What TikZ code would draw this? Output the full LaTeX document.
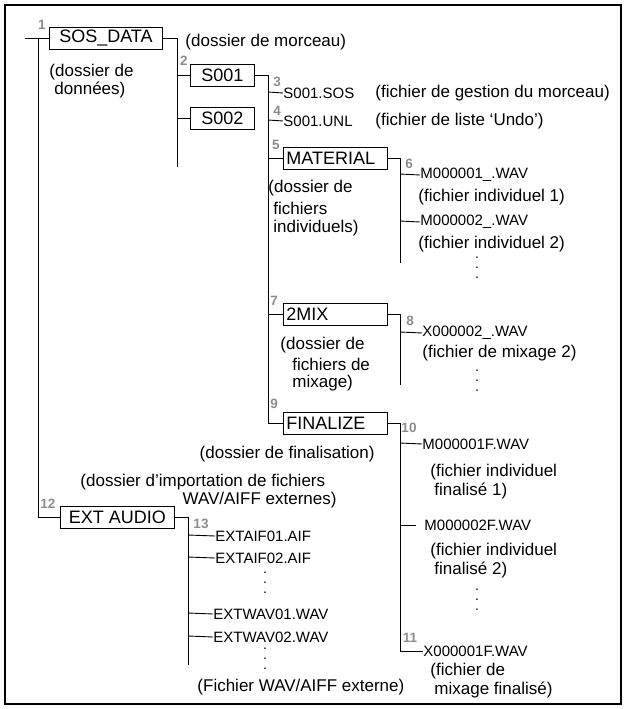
\documentclass[tikz,border=0pt]{standalone}
\usepackage{fontspec}
\setmainfont{Liberation Sans}
\begin{document}
\begin{tikzpicture}[x=1pt,y=-1pt,line width=0.9pt,
  box/.style={draw,line width=0.9pt,inner xsep=3pt,inner ysep=0pt,minimum height=22pt,font=\fontsize{18}{18}\selectfont,anchor=west},
  fname/.style={inner sep=0pt,anchor=west,font=\fontsize{15}{15}\selectfont},
  desc/.style={inner sep=0pt,anchor=west,font=\fontsize{17}{17}\selectfont},
  num/.style={inner sep=0pt,text=black!45,font=\bfseries\fontsize{13.5}{13.5}\selectfont},
  dots/.style={inner sep=0pt,font=\fontsize{14}{10}\selectfont,align=center}]
\useasboundingbox (0,0) rectangle (626,709);
\draw[line width=1.8pt] (5,5) rectangle (621,704);
% boxes
\node[box,minimum width=113pt] (sos) at (49,38) {SOS\_DATA};
\node[box,minimum width=64pt] (s1) at (190,75) {S001};
\node[box,minimum width=64pt] (s2) at (190,118) {S002};
\node[box,minimum width=104pt,text width=98pt] (mat) at (283,158) {MATERIAL};
\node[box,minimum width=104pt,text width=98pt] (mix) at (283,314) {2MIX};
\node[box,minimum width=104pt,text width=98pt] (fin) at (283,423) {FINALIZE};
\node[box,minimum width=114pt] (ext) at (60,517) {EXT AUDIO};
% numbers
\node[num] (n1) at (42,25) {1};
\node[num] (n2) at (184,61) {2};
\node[num] (n3) at (277,82) {3};
\node[num] (n4) at (277,111) {4};
\node[num] (n5) at (276,145) {5};
\node[num] (n6) at (409,164) {6};
\node[num] (n7) at (274,301) {7};
\node[num] (n8) at (410,321) {8};
\node[num] (n9) at (274,404) {9};
\node[num] (n10) at (409,428) {10};
\node[num] (n11) at (410,638) {11};
\node[num] (n12) at (48,504) {12};
\node[num] (n13) at (201,524) {13};
% files
\node[fname] (f3) at (283,93) {S001.SOS};
\node[fname] (f4) at (283,121) {S001.UNL};
\node[fname] (m1) at (420,175) {M000001\_.WAV};
\node[fname] (m2) at (420,222) {M000002\_.WAV};
\node[fname] (x2) at (422,333) {X000002\_.WAV};
\node[fname] (fm1) at (422,444) {M000001F.WAV};
\node[fname] (fm2) at (424,525) {M000002F.WAV};
\node[fname] (fx1) at (423,651) {X000001F.WAV};
\node[fname] (e1) at (215,536) {EXTAIF01.AIF};
\node[fname] (e2) at (215,558) {EXTAIF02.AIF};
\node[fname] (e3) at (213,614) {EXTWAV01.WAV};
\node[fname] (e4) at (213,637) {EXTWAV02.WAV};
% descriptions
\node[desc] (d1) at (185,42) {(dossier de morceau)};
\node[desc] (d2a) at (49,72) {(dossier de};
\node[desc] (d2b) at (54,90) {donn\'ees)};
\node[desc] (d3) at (375,93) {(fichier de gestion du morceau)};
\node[desc] (d4) at (375,121) {(fichier de liste ‘Undo’)};
\node[desc] (d5a) at (268,188) {(dossier de};
\node[desc] (d5b) at (273,208) {fichiers};
\node[desc] (d5c) at (273,228) {individuels)};
\node[desc] (d6a) at (418,197) {(fichier individuel 1)};
\node[desc] (d6b) at (418,244) {(fichier individuel 2)};
\node[desc] (d7a) at (280,345) {(dossier de};
\node[desc] (d7b) at (292,364) {fichiers de};
\node[desc] (d7c) at (292,383) {mixage)};
\node[desc] (d8) at (422,353) {(fichier de mixage 2)};
\node[desc,anchor=east] (d9) at (375,454) {(dossier de finalisation)};
\node[desc] (d10a) at (430,472) {(fichier individuel};
\node[desc] (d10b) at (434,491) {finalis\'e 1)};
\node[desc] (d10c) at (430,551) {(fichier individuel};
\node[desc] (d10d) at (434,570) {finalis\'e 2)};
\node[desc] (d11a) at (430,671) {(fichier de};
\node[desc] (d11b) at (434,690) {mixage finalis\'e)};
\node[desc] (d12a) at (80,482) {(dossier d’importation de fichiers};
\node[desc,anchor=east] (d12b) at (337,500) {WAV/AIFF externes)};
\node[desc] (d13) at (197,687) {(Fichier WAV/AIFF externe)};
% dots
\node[dots] (p1) at (477,268) {.\\.\\.};
\node[dots] (p2) at (477,381) {.\\.\\.};
\node[dots] (p3) at (477,600) {.\\.\\.};
\node[dots] (p4) at (265,583) {.\\.\\.};
\node[dots] (p5) at (265,659) {.\\.\\.};
% connectors
\coordinate (r0) at (25,38);
\draw (r0) -- (sos.west);
\draw (38,38) |- (ext.west);
\draw (sos.east) -- (177,38) -- (177,167);
\draw (177,75) -- (s1.west);
\draw (177,118) -- (s2.west);
\draw (s1.east) -- (268,75) |- (fin.west);
\draw (268,92) -- (f3.west);
\draw (268,120) -- (f4.west);
\draw (268,158) -- (mat.west);
\draw (268,314) -- (mix.west);
\draw (mat.east) -- (400,158) -- (400,263);
\draw (400,174) -- (m1.west);
\draw (400,221) -- (m2.west);
\draw (mix.east) -- (400,314) -- (400,385);
\draw (400,332) -- (x2.west);
\draw (fin.east) -- (400,423) |- (fx1.west);
\draw (400,443) -- (fm1.west);
\draw (400,525) -- (416,525);
\draw (ext.east) -- (188,517) -- (188,665);
\draw (188,535) -- (e1.west);
\draw (188,557) -- (e2.west);
\draw (188,613) -- (e3.west);
\draw (188,636) -- (e4.west);
\end{tikzpicture}
\end{document}
